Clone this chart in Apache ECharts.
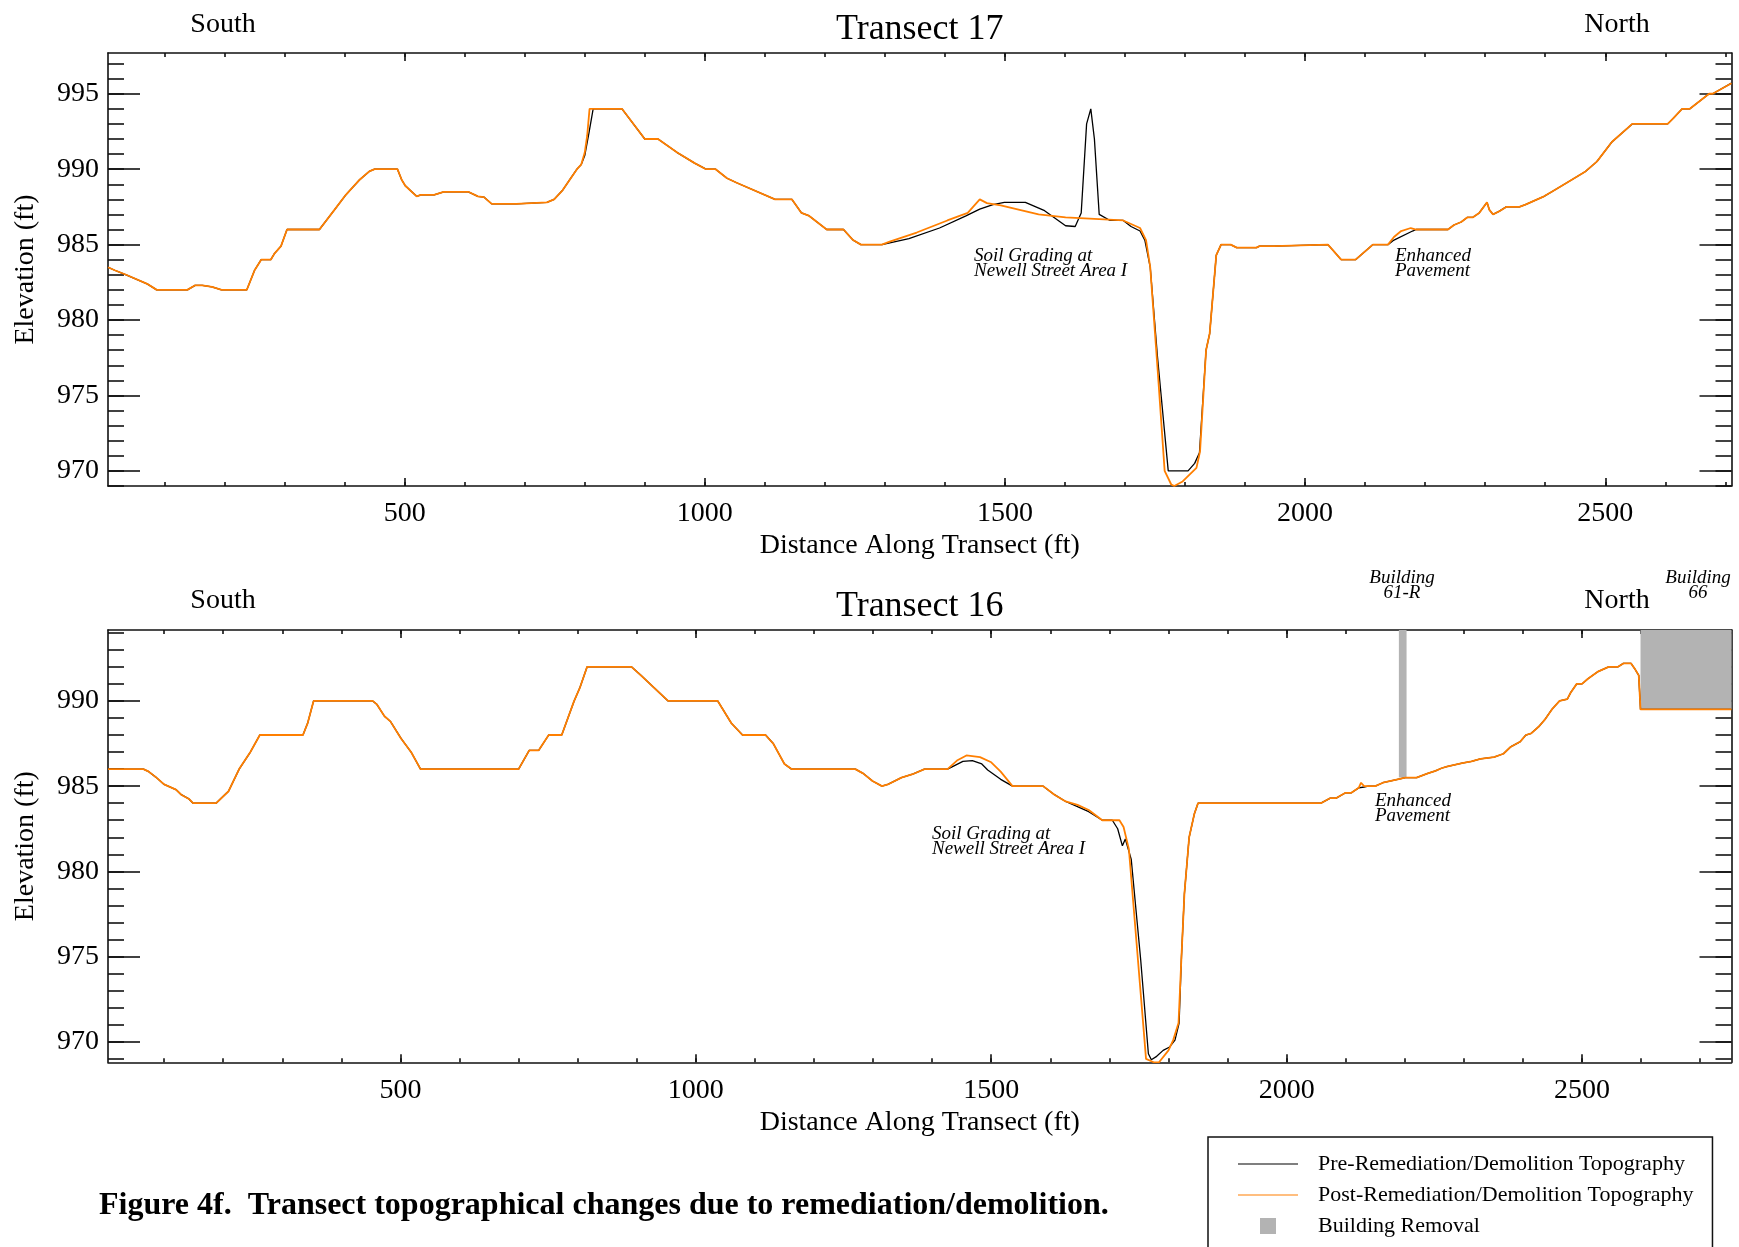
<!DOCTYPE html>
<html>
<head>
<meta charset="utf-8">
<title>Transect topographical changes</title>
<script src="https://cdn.jsdelivr.net/npm/echarts@6/dist/echarts.min.js"></script>
<style>
  html, body { margin: 0; padding: 0; background: #ffffff; }
  #chart { width: 1739px; height: 1247px; }
</style>
</head>
<body>
<div id="chart"></div>
<script>
// ---------------------------------------------------------------------------
// Data: [distance along transect (ft), elevation (ft)]
// ---------------------------------------------------------------------------
const preName = 'Pre-Remediation/Demolition Topography';
const postName = 'Post-Remediation/Demolition Topography';
const buildingName = 'Building Removal';

const t17Pre = [
  [5.8,983.5],[17,983.3],[36,983.0],[71,982.4],[87,982.0],[138,982.0],[151,982.3],[163,982.3],[179,982.2],[195,982.0],
  [237,982.0],[250,983.3],[261,984.0],[277,984.0],[283,984.4],[294,984.9],[304,986.0],[358,986.0],[383,987.3],[402,988.3],
  [425,989.3],[441,989.85],[450,990.0],[488,990.0],[495,989.3],[501,988.9],[520,988.2],[527,988.3],[549,988.3],[565,988.5],
  [606,988.5],[622,988.2],[632,988.15],[645,987.7],[686,987.7],[689,987.8],[737,987.8],[749,988.0],[763,988.6],[775,989.3],
  [787,990.0],[794,990.3],[800,990.9],[807,992.4],[814,994.0],[862,994.0],[900,992.0],[922,992.0],[954,991.1],[983,990.4],
  [1002,990.0],[1018,990.0],[1037,989.4],[1053,989.1],[1117,988.0],[1145,988.0],[1161,987.1],[1174,986.9],[1203,986.0],[1231,986.0],
  [1247,985.3],[1260,985.0],[1295,985.0],[1340,985.4],[1391,986.1],[1435,986.9],[1458,987.35],[1480,987.65],[1499,987.8],[1534,987.8],
  [1566,987.25],[1601,986.25],[1617,986.2],[1627,987.1],[1636,993.0],[1643,994.0],[1649,992.0],[1657,987.0],[1675,986.6],[1697,986.6],
  [1710,986.2],[1725,985.9],[1733,985.3],[1742,983.5],[1754,977.6],[1772,970.0],[1805,970.0],[1816,970.5],[1824,971.2],[1835,978.0],
  [1841,979.1],[1852,984.3],[1860,985.0],[1876,985.0],[1886,984.8],[1919,984.8],[1924,984.9],[1947,984.9],[1950,985.0],[2038,985.0],
  [2048,984.55],[2060,984.0],[2084,984.0],[2113,985.0],[2138,985.0],[2148,985.3],[2179,985.9],[2185,986.0],[2192,986.0],[2238,986.0],
  [2248,986.3],[2260,986.5],[2270,986.8],[2279,986.8],[2290,987.1],[2303,987.8],[2307,987.3],[2313,987.0],[2323,987.2],[2335,987.5],
  [2357,987.5],[2367,987.65],[2398,988.2],[2411,988.5],[2436,989.1],[2467,989.85],[2486,990.5],[2511,991.8],[2545,993.0],[2604,993.0],
  [2614,993.4],[2628,994.0],[2641,994.0],[2673,995.0],[2679,995.0],[2710.3,995.7]
];

const t17Post = [
  [5.8,983.5],[17,983.3],[36,983.0],[71,982.4],[87,982.0],[138,982.0],[151,982.3],[163,982.3],[179,982.2],[195,982.0],
  [237,982.0],[250,983.3],[261,984.0],[277,984.0],[283,984.4],[294,984.9],[304,986.0],[358,986.0],[383,987.3],[402,988.3],
  [425,989.3],[441,989.85],[450,990.0],[488,990.0],[495,989.3],[501,988.9],[520,988.2],[527,988.3],[549,988.3],[565,988.5],
  [606,988.5],[622,988.2],[632,988.15],[645,987.7],[686,987.7],[689,987.8],[737,987.8],[749,988.0],[763,988.6],[775,989.3],
  [787,990.0],[794,990.3],[800,991.1],[804,992.2],[808,994.0],[862,994.0],[900,992.0],[922,992.0],[954,991.1],[983,990.4],
  [1002,990.0],[1018,990.0],[1037,989.4],[1053,989.1],[1117,988.0],[1145,988.0],[1161,987.1],[1174,986.9],[1203,986.0],[1231,986.0],
  [1247,985.3],[1260,985.0],[1295,985.0],[1308,985.2],[1353,985.8],[1404,986.6],[1438,987.1],[1458,988.0],[1470,987.75],[1493,987.6],
  [1556,987.0],[1601,986.8],[1697,986.6],[1725,986.1],[1735,985.3],[1742,983.5],[1754,976.9],[1766,970.0],[1777,969.1],[1782,969.0],
  [1796,969.3],[1819,970.2],[1825,971.3],[1835,978.0],[1841,979.1],[1852,984.3],[1860,985.0],[1876,985.0],[1886,984.8],[1919,984.8],
  [1924,984.9],[1947,984.9],[1950,985.0],[2038,985.0],[2048,984.55],[2060,984.0],[2084,984.0],[2113,985.0],[2138,985.0],[2148,985.5],
  [2160,985.9],[2176,986.1],[2185,986.0],[2192,986.0],[2238,986.0],[2248,986.3],[2260,986.5],[2270,986.8],[2279,986.8],[2290,987.1],
  [2303,987.8],[2307,987.3],[2313,987.0],[2323,987.2],[2335,987.5],[2357,987.5],[2367,987.65],[2398,988.2],[2411,988.5],[2436,989.1],
  [2467,989.85],[2486,990.5],[2511,991.8],[2545,993.0],[2604,993.0],[2614,993.4],[2628,994.0],[2641,994.0],[2673,995.0],[2679,995.0],
  [2710.3,995.7]
];

const t16Pre = [
  [5,986.0],[65,986.0],[74,985.85],[87,985.5],[100,985.1],[120,984.8],[129,984.5],[142,984.25],[149,984.0],[188,984.0],
  [197,984.3],[209,984.7],[227,986.0],[246,987.0],[262,988.0],[335,988.0],[343,988.7],[353,990.0],[453,990.0],[460,989.8],
  [473,989.1],[483,988.8],[501,987.8],[518,987.0],[534,986.0],[700,986.0],[718,987.1],[734,987.1],[751,988.0],[773,988.0],
  [794,990.0],[804,990.8],[816,992.0],[891,992.0],[907,991.5],[953,990.0],[1037,990.0],[1060,988.7],[1079,988.0],[1118,988.0],
  [1131,987.5],[1150,986.3],[1162,986.0],[1270,986.0],[1283,985.75],[1299,985.3],[1315,985.0],[1325,985.1],[1348,985.5],[1367,985.7],
  [1387,986.0],[1426,986.0],[1432,986.1],[1452,986.45],[1468,986.5],[1484,986.3],[1494,985.95],[1516,985.4],[1536,985.0],[1588,985.0],
  [1607,984.5],[1626,984.1],[1646,983.8],[1665,983.5],[1688,983.0],[1705,983.0],[1714,982.5],[1722,981.5],[1727,981.9],[1737,980.7],
  [1753,974.8],[1766,969.3],[1771,968.95],[1780,969.15],[1791,969.5],[1802,969.7],[1811,970.1],[1818,971.1],[1822,975.0],[1827,978.7],
  [1835,982.0],[1844,983.4],[1850,984.0],[2058,984.0],[2074,984.3],[2084,984.3],[2099,984.6],[2109,984.6],[2122,984.9],[2131,984.95],
  [2138,985.0],[2150,985.0],[2163,985.2],[2188,985.4],[2201,985.5],[2220,985.5],[2239,985.75],[2252,985.9],[2262,986.05],[2271,986.15],
  [2284,986.25],[2297,986.35],[2313,986.45],[2328,986.6],[2351,986.7],[2367,986.9],[2379,987.3],[2395,987.6],[2405,988.0],[2414,988.1],
  [2427,988.5],[2437,988.9],[2449,989.5],[2462,990.0],[2475,990.1],[2481,990.5],[2491,991.0],[2500,991.0],[2510,991.3],[2526,991.7],
  [2545,992.0],[2561,992.0],[2570,992.2],[2583,992.2],[2589,991.9],[2596,991.5],[2599,989.5],[2753,989.5]
];

const t16Post = [
  [5,986.0],[65,986.0],[74,985.85],[87,985.5],[100,985.1],[120,984.8],[129,984.5],[142,984.25],[149,984.0],[188,984.0],
  [197,984.3],[209,984.7],[227,986.0],[246,987.0],[262,988.0],[335,988.0],[343,988.7],[353,990.0],[453,990.0],[460,989.8],
  [473,989.1],[483,988.8],[501,987.8],[518,987.0],[534,986.0],[700,986.0],[718,987.1],[734,987.1],[751,988.0],[773,988.0],
  [794,990.0],[804,990.8],[816,992.0],[891,992.0],[907,991.5],[953,990.0],[1037,990.0],[1060,988.7],[1079,988.0],[1118,988.0],
  [1131,987.5],[1150,986.3],[1162,986.0],[1270,986.0],[1283,985.75],[1299,985.3],[1315,985.0],[1325,985.1],[1348,985.5],[1367,985.7],
  [1387,986.0],[1426,986.0],[1442,986.5],[1458,986.8],[1481,986.7],[1500,986.4],[1516,985.85],[1536,985.0],[1588,985.0],[1607,984.5],
  [1626,984.1],[1646,983.9],[1665,983.6],[1688,983.0],[1717,983.0],[1724,982.6],[1733,981.3],[1746,975.8],[1762,969.0],[1775,968.8],
  [1784,968.8],[1800,969.5],[1808,970.1],[1817,971.1],[1822,975.0],[1827,978.7],[1835,982.0],[1844,983.4],[1850,984.0],[2058,984.0],
  [2074,984.3],[2084,984.3],[2099,984.6],[2109,984.6],[2122,984.9],[2126,985.2],[2131,985.0],[2138,985.0],[2150,985.0],[2163,985.2],
  [2188,985.4],[2201,985.5],[2220,985.5],[2239,985.75],[2252,985.9],[2262,986.05],[2271,986.15],[2284,986.25],[2297,986.35],[2313,986.45],
  [2328,986.6],[2351,986.7],[2367,986.9],[2379,987.3],[2395,987.6],[2405,988.0],[2414,988.1],[2427,988.5],[2437,988.9],[2449,989.5],
  [2462,990.0],[2475,990.1],[2481,990.5],[2491,991.0],[2500,991.0],[2510,991.3],[2526,991.7],[2545,992.0],[2561,992.0],[2570,992.2],
  [2583,992.2],[2589,991.9],[2596,991.5],[2599,989.5],[2753,989.5]
];

// Removed buildings on transect 16: [start ft, end ft, remaining ground elevation ft]
const t16Buildings = [
  [2190, 2203, 985.5],   // Building 61-R
  [2599, 2753, 989.5]    // Building 66
];

// Axis extents
const t17XRange = [5.8, 2710.3];
const t17YRange = [969, 997.7];
const t16XRange = [5, 2753];
const t16YRange = [968.8, 994.16];

// Tick positions
const xMajorTicks = [500, 1000, 1500, 2000, 2500];
const yMajorTicks = [970, 975, 980, 985, 990, 995];

function steps(from, to, step) {
  const out = [];
  for (let v = from; v <= to + 1e-9; v += step) out.push(v);
  return out;
}
const xMinorTicks = steps(100, 2700, 100);
const t17YMinorTicks = steps(969, 997, 1);
const t16YMinorTicks = steps(969, 994, 1);

// ---------------------------------------------------------------------------
// Styling
// ---------------------------------------------------------------------------
const FONT = '"Liberation Serif", "Times New Roman", Times, serif';
const INK = '#000000';
const ORANGE = '#ff7f00';
const GRAY = '#b3b3b3';
const FRAME = { color: '#111111', width: 1.6 };
const plainNumber = function (v) { return String(v); };

const grids = [
  { left: 108, right: 7.5, top: 53, height: 433 },
  { left: 108, right: 7.5, top: 630, height: 432.3 }
];

function xAxesFor(gridIndex, range) {
  const base = {
    type: 'value', gridIndex, min: range[0], max: range[1],
    splitLine: { show: false },
    axisLine: { show: false, onZero: false },
    axisLabel: { show: false }
  };
  return [
    {
      ...base, position: 'bottom',
      axisLine: { show: true, onZero: false, lineStyle: FRAME },
      axisTick: { show: true, inside: true, length: 8, customValues: xMajorTicks, lineStyle: FRAME },
      axisLabel: { show: true, customValues: xMajorTicks, formatter: plainNumber, margin: 14, color: INK, fontFamily: FONT, fontSize: 28 },
      name: 'Distance Along Transect (ft)', nameLocation: 'middle', nameGap: 46,
      nameTextStyle: { color: INK, fontFamily: FONT, fontSize: 28 }
    },
    { ...base, position: 'bottom', axisTick: { show: true, inside: true, length: 4, customValues: xMinorTicks, lineStyle: FRAME } },
    {
      ...base, position: 'top',
      axisLine: { show: true, onZero: false, lineStyle: FRAME },
      axisTick: { show: true, inside: true, length: 8, customValues: xMajorTicks, lineStyle: FRAME }
    },
    { ...base, position: 'top', axisTick: { show: true, inside: true, length: 4, customValues: xMinorTicks, lineStyle: FRAME } }
  ];
}

function yAxesFor(gridIndex, range, minorTicks) {
  const base = {
    type: 'value', gridIndex, min: range[0], max: range[1],
    splitLine: { show: false },
    axisLine: { show: false, onZero: false },
    axisLabel: { show: false }
  };
  return [
    {
      ...base, position: 'left',
      axisLine: { show: true, onZero: false, lineStyle: FRAME },
      axisTick: { show: true, inside: true, length: 32, customValues: yMajorTicks, lineStyle: FRAME },
      axisLabel: { show: true, customValues: yMajorTicks, formatter: plainNumber, margin: 9, color: INK, fontFamily: FONT, fontSize: 28 },
      name: 'Elevation (ft)', nameLocation: 'middle', nameGap: 68,
      nameTextStyle: { color: INK, fontFamily: FONT, fontSize: 28 }
    },
    { ...base, position: 'left', axisTick: { show: true, inside: true, length: 16, customValues: minorTicks, lineStyle: FRAME } },
    {
      ...base, position: 'right',
      axisLine: { show: true, onZero: false, lineStyle: FRAME },
      axisTick: { show: true, inside: true, length: 32, customValues: yMajorTicks, lineStyle: FRAME }
    },
    { ...base, position: 'right', axisTick: { show: true, inside: true, length: 16, customValues: minorTicks, lineStyle: FRAME } }
  ];
}

function lineSeries(name, data, axisIndex, color, width, z) {
  return {
    type: 'line', name, data,
    xAxisIndex: axisIndex, yAxisIndex: axisIndex,
    symbol: 'none', showSymbol: false, smooth: false,
    itemStyle: { color },
    lineStyle: { color, width },
    z
  };
}

function label(x, y, text, size, extra) {
  return {
    type: 'text', x, y, z: 100,
    style: Object.assign({
      text, fill: INK, fontFamily: FONT, fontSize: size,
      align: 'center', verticalAlign: 'middle'
    }, extra || {})
  };
}
function note(x, y, text, align) {
  return label(x, y, text, 19, { fontStyle: 'italic', align: align, lineHeight: 15 });
}

const plotCenterX = 108 + (1739 - 7.5 - 108) / 2;

const option = {
  animation: false,
  backgroundColor: '#ffffff',
  grid: grids,
  xAxis: [...xAxesFor(0, t17XRange), ...xAxesFor(1, t16XRange)],
  yAxis: [...yAxesFor(0, t17YRange, t17YMinorTicks), ...yAxesFor(1, t16YRange, t16YMinorTicks)],
  legend: {
    orient: 'vertical',
    left: 1208, top: 1137,
    width: 520, height: 120,
    padding: [16, 19, 40, 30],
    borderColor: '#111111', borderWidth: 1.5,
    itemWidth: 60, itemHeight: 16, itemGap: 9,
    selectedMode: false,
    symbolKeepAspect: true,
    textStyle: { color: INK, fontFamily: FONT, fontSize: 22, padding: [0, 0, 0, 15] },
    data: [
      { name: preName, icon: 'path://M0,0H60V1.2H0Z' },
      { name: postName, icon: 'path://M0,0H60V1.2H0Z' },
      { name: buildingName, icon: 'path://M0,0H16V16H0Z' }
    ]
  },
  series: [
    lineSeries(preName, t17Pre, 0, INK, 1.3, 3),
    lineSeries(postName, t17Post, 0, ORANGE, 1.8, 4),
    {
      type: 'custom', name: buildingName,
      xAxisIndex: 4, yAxisIndex: 4,
      data: t16Buildings,
      encode: { x: [0, 1], y: 2 },
      itemStyle: { color: GRAY },
      z: 1,
      renderItem: function (params, api) {
        const topLeft = api.coord([api.value(0), t16YRange[1]]);
        const bottomRight = api.coord([api.value(1), api.value(2)]);
        return {
          type: 'rect',
          shape: {
            x: topLeft[0], y: topLeft[1],
            width: bottomRight[0] - topLeft[0],
            height: bottomRight[1] - topLeft[1]
          },
          style: { fill: GRAY }
        };
      }
    },
    lineSeries(preName, t16Pre, 4, INK, 1.3, 3),
    lineSeries(postName, t16Post, 4, ORANGE, 1.8, 4)
  ],
  graphic: [
    // Transect 17 headings and notes
    label(223, 24.5, 'South', 28),
    label(plotCenterX, 30, 'Transect 17', 36),
    label(1617, 24.5, 'North', 28),
    note(974, 263.5, 'Soil Grading at\nNewell Street Area I', 'left'),
    note(1395, 263.5, 'Enhanced\nPavement', 'left'),
    // Transect 16 headings and notes
    label(223, 601, 'South', 28),
    label(plotCenterX, 607, 'Transect 16', 36),
    label(1617, 601, 'North', 28),
    note(1402, 585, 'Building\n61-R', 'center'),
    note(1698, 585, 'Building\n66', 'center'),
    note(1375, 808.5, 'Enhanced\nPavement', 'left'),
    note(932, 841.5, 'Soil Grading at\nNewell Street Area I', 'left'),
    // Figure caption
    label(99, 1206, 'Figure 4f.  Transect topographical changes due to remediation/demolition.', 32,
      { align: 'left', fontWeight: 'bold' })
  ]
};

const chart = echarts.init(document.getElementById('chart'), null, { renderer: 'canvas' });
chart.setOption(option);
</script>
</body>
</html>
